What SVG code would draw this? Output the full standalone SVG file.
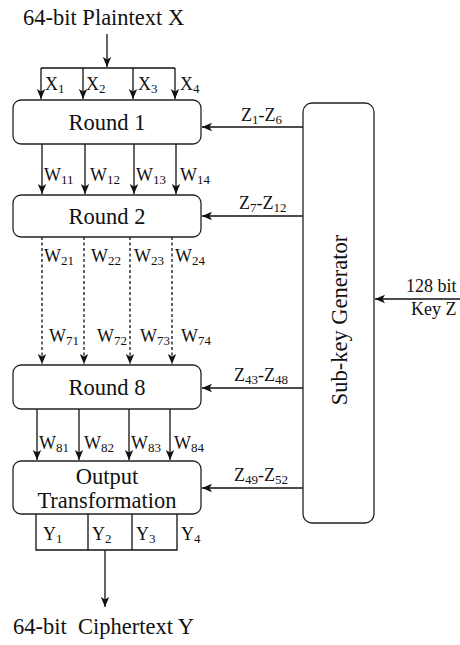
<svg xmlns="http://www.w3.org/2000/svg" width="460" height="645" viewBox="0 0 460 645">
<defs>
<marker id="ah" markerUnits="userSpaceOnUse" markerWidth="10" markerHeight="10" viewBox="0 0 10 10" refX="10" refY="5" orient="auto">
<path d="M0,0.8 L10,5 L0,9.2 L2.5,5 Z" fill="#111"/>
</marker>
</defs>
<style>
text{font-family:"Liberation Serif","Times New Roman",serif;fill:#111}
.t{font-size:22.5px}
.l{font-size:18px}
.s{font-size:13px}
.box{fill:#fff;stroke:#222;stroke-width:1.3}
.c{stroke:#111;stroke-width:1.3;fill:none}
.a{marker-end:url(#ah)}
.d{stroke-dasharray:3,2.5}
</style>
<rect width="460" height="645" fill="#fff"/>
<text class="t" x="23" y="25">64-bit Plaintext X</text>
<g id="connectors">
<path class="c a" d="M107,34 V67"/>
<path class="c" d="M41,68 H175"/>
<path class="c a" d="M41,68 V99"/>
<path class="c a" d="M83,68 V99"/>
<path class="c a" d="M133,68 V99"/>
<path class="c a" d="M175,68 V99"/>
<path class="c a" d="M42,144 V194"/>
<path class="c a" d="M85,144 V194"/>
<path class="c a" d="M134,144 V194"/>
<path class="c a" d="M176,144 V194"/>
<path class="c d a" d="M42,237 V364"/>
<path class="c d a" d="M84,237 V364"/>
<path class="c d a" d="M130,237 V364"/>
<path class="c d a" d="M172,237 V364"/>
<path class="c a" d="M37,409 V460"/>
<path class="c a" d="M79,409 V460"/>
<path class="c a" d="M129,409 V460"/>
<path class="c a" d="M170,409 V460"/>
<path class="c a" d="M303,127 H202"/>
<path class="c a" d="M303,216 H202"/>
<path class="c a" d="M303,388 H202"/>
<path class="c a" d="M303,488 H202"/>
<path class="c a" d="M460,299 H375"/>
<path class="c a" d="M105,550 V607"/>
</g>
<g id="labels">
<text class="l" x="45" y="90">X<tspan class="s" dy="3">1</tspan></text>
<text class="l" x="86" y="90">X<tspan class="s" dy="3">2</tspan></text>
<text class="l" x="138" y="90">X<tspan class="s" dy="3">3</tspan></text>
<text class="l" x="180" y="90">X<tspan class="s" dy="3">4</tspan></text>
<text class="l" x="44" y="181">W<tspan class="s" dy="3">11</tspan></text>
<text class="l" x="90" y="181">W<tspan class="s" dy="3">12</tspan></text>
<text class="l" x="136" y="181">W<tspan class="s" dy="3">13</tspan></text>
<text class="l" x="180" y="181">W<tspan class="s" dy="3">14</tspan></text>
<text class="l" x="44" y="262">W<tspan class="s" dy="3">21</tspan></text>
<text class="l" x="91" y="262">W<tspan class="s" dy="3">22</tspan></text>
<text class="l" x="134" y="262">W<tspan class="s" dy="3">23</tspan></text>
<text class="l" x="175" y="262">W<tspan class="s" dy="3">24</tspan></text>
<text class="l" x="49" y="342">W<tspan class="s" dy="3">71</tspan></text>
<text class="l" x="97" y="342">W<tspan class="s" dy="3">72</tspan></text>
<text class="l" x="140" y="342">W<tspan class="s" dy="3">73</tspan></text>
<text class="l" x="181" y="342">W<tspan class="s" dy="3">74</tspan></text>
<text class="l" x="39" y="449">W<tspan class="s" dy="3">81</tspan></text>
<text class="l" x="84" y="449">W<tspan class="s" dy="3">82</tspan></text>
<text class="l" x="131" y="449">W<tspan class="s" dy="3">83</tspan></text>
<text class="l" x="174" y="449">W<tspan class="s" dy="3">84</tspan></text>
<text class="l" x="241" y="121">Z<tspan class="s" dy="3">1</tspan><tspan dy="-3">-Z</tspan><tspan class="s" dy="3">6</tspan></text>
<text class="l" x="239" y="209">Z<tspan class="s" dy="3">7</tspan><tspan dy="-3">-Z</tspan><tspan class="s" dy="3">12</tspan></text>
<text class="l" x="234" y="381">Z<tspan class="s" dy="3">43</tspan><tspan dy="-3">-Z</tspan><tspan class="s" dy="3">48</tspan></text>
<text class="l" x="234" y="481">Z<tspan class="s" dy="3">49</tspan><tspan dy="-3">-Z</tspan><tspan class="s" dy="3">52</tspan></text>
<text class="l" x="406" y="292">128 bit</text>
<text class="l" x="411" y="315">Key Z</text>
</g>
<g id="round1">
<rect class="box" x="13" y="100" width="188" height="44" rx="8"/>
<text class="t" x="107" y="130" text-anchor="middle">Round 1</text>
</g>
<g id="round2">
<rect class="box" x="13" y="195" width="188" height="42" rx="8"/>
<text class="t" x="107" y="224" text-anchor="middle">Round 2</text>
</g>
<g id="round8">
<rect class="box" x="13" y="365" width="188" height="44" rx="8"/>
<text class="t" x="107" y="395" text-anchor="middle">Round 8</text>
</g>
<g id="output">
<rect class="box" x="13" y="461" width="188" height="53" rx="8"/>
<text class="t" x="107" y="484" text-anchor="middle">Output</text>
<text class="t" x="107" y="508" text-anchor="middle">Transformation</text>
</g>
<g id="ybox">
<path class="c" d="M36,514 V550 H177 V514 M88,514 V550 M132,514 V550"/>
<text class="l" x="43" y="540">Y<tspan class="s" dy="3">1</tspan></text>
<text class="l" x="92" y="540">Y<tspan class="s" dy="3">2</tspan></text>
<text class="l" x="136" y="540">Y<tspan class="s" dy="3">3</tspan></text>
<text class="l" x="181" y="540">Y<tspan class="s" dy="3">4</tspan></text>
</g>
<g id="subkey">
<rect class="box" x="303" y="103" width="71" height="420" rx="9"/>
<text class="t" transform="translate(347,320) rotate(-90)" text-anchor="middle">Sub-key Generator</text>
</g>
<text class="t" x="13" y="634" xml:space="preserve">64-bit  Ciphertext Y</text>
</svg>
